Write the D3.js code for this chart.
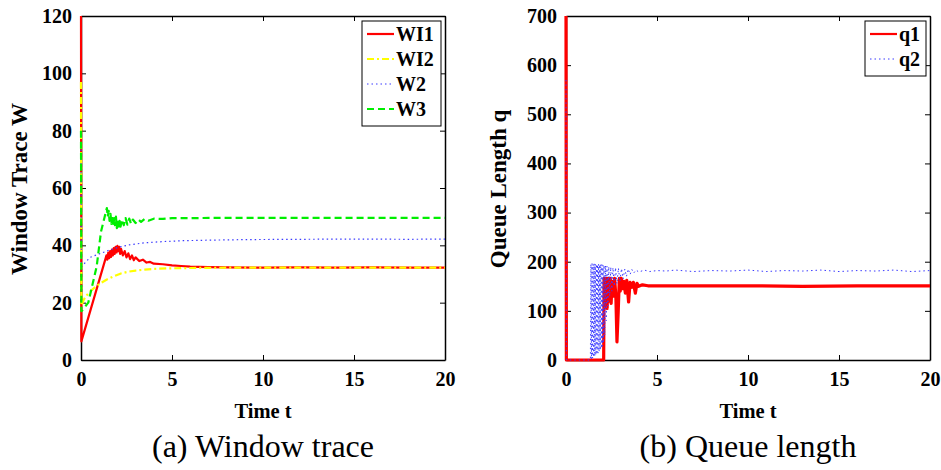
<!DOCTYPE html>
<html>
<head>
<meta charset="utf-8">
<script src="https://cdn.jsdelivr.net/npm/d3@7"></script>
<style>
  body { margin: 0; background: #fff; }
  text { font-family: "Liberation Serif", "Times New Roman", serif; }
</style>
</head>
<body>
<svg id="chart" width="941" height="470"></svg>
<script>
// values, [time, value]
var wi1 = [[0,120],[0.02,6.5],[1.40,36.5],[1.45,35],[1.5,37.5],[1.55,35.5],[1.6,38],[1.65,36],[1.7,38.5],
  [1.75,36.5],[1.8,39],[1.85,37],[1.9,39.5],[1.95,37.5],[2.0,39.8],[2.05,38],[2.1,39.5],[2.15,37],[2.2,38.8],
  [2.3,36.5],[2.4,38],[2.5,35.8],[2.6,37.2],[2.7,35.2],[2.8,36.5],[2.9,34.8],[3.0,35.8],[3.2,34.5],[3.4,35],
  [3.6,34],[3.8,34.2],[4.0,33.6],[4.5,33.4],[5.0,33.0],[5.5,32.8],[6.0,32.6],[7,32.4],[8,32.3],[10,32.2],
  [12,32.3],[14,32.2],[16,32.3],[18,32.2],[20,32.2]];
var wi2 = [[0,97],[0.02,19],[0.15,21],[0.3,22.5],[0.6,24.5],[1.0,26.5],[1.4,28],[1.8,29.2],[2.2,30.2],
  [2.6,30.8],[3.0,31.2],[3.5,31.5],[4.0,31.8],[5.0,32.0],[6.0,32.1],[8,32.2],[10,32.2],[14,32.2],[20,32.2]];
var w2 = [[0,75],[0.02,32.5],[0.5,35.8],[1.0,37],[1.5,38.2],[2.05,39.3],[2.6,40.1],[3.5,40.9],[4.5,41.3],
  [5.5,41.6],[7,41.8],[9,42.0],[12,42.1],[15,42.2],[18,42.1],[20,42.2]];
var w3 = [[0,80],[0.02,17],[0.4,20],[0.86,32.6],[1.1,44.8],[1.42,53],[1.47,50],[1.52,52],[1.57,48.5],
  [1.62,51],[1.67,47.5],[1.72,50.5],[1.77,46.5],[1.82,49.5],[1.87,47],[1.92,50],[1.97,46],[2.02,49],
  [2.07,45.5],[2.12,48.5],[2.17,46.5],[2.25,49],[2.35,47],[2.45,49.5],[2.55,47.2],[2.65,49.3],[2.75,47.5],
  [2.85,49],[3.0,47.8],[3.15,49],[3.3,48.2],[3.5,49.2],[3.7,48.6],[4.0,49.3],[4.5,49.2],[5,49.5],[6,49.5],
  [8,49.6],[10,49.6],[14,49.6],[20,49.6]];

var q1 = [[0,700],[0.02,0],[2.07,0],[2.09,166],[2.14,110],[2.2,166],[2.26,105],[2.31,166],[2.37,120],
  [2.43,166],[2.48,115],[2.53,160],[2.6,130],[2.67,166],[2.74,130],[2.8,37],[2.87,100],[2.93,166],
  [2.98,140],[3.04,166],[3.1,145],[3.18,160],[3.26,136],[3.34,162],[3.44,118],[3.52,158],[3.62,148],
  [3.7,158],[3.81,136],[3.9,156],[3.99,150],[4.2,153],[4.5,151],[5,151],[7,151],[10,151],[13,150],
  [16,151],[20,151]];
var q2 = [[0,570],[0.02,0],[1.34,0],[1.37,195],[1.40,2],[1.43,196],[1.46,4],[1.49,195],[1.52,6],
  [1.55,196],[1.58,8],[1.61,195],[1.64,10],[1.67,195],[1.70,12],[1.73,194],[1.76,14],[1.79,195],
  [1.82,17],[1.85,194],[1.88,20],[1.91,195],[1.94,24],[1.97,194],[2.00,28],[2.03,193],[2.06,35],
  [2.09,193],[2.13,50],[2.17,192],[2.21,80],[2.25,191],[2.30,110],[2.35,190],[2.40,130],[2.46,189],
  [2.52,140],[2.58,188],[2.65,150],[2.72,188],[2.80,155],[2.88,187],[2.96,160],[3.05,186],[3.14,165],
  [3.23,185],[3.32,170],[3.42,185],[3.52,174],[3.62,184],[3.72,177],[3.85,183],[4.0,179],[4.3,183],
  [4.6,180],[5,182],[5.5,181],[6,183],[7,180],[8,182],[9,181],[10,183],[11,180],[12,182],[13,181],
  [14,183],[15,180],[16,182],[17,181],[18,183],[19,180],[20,182]];

var xTicks = [0, 5, 10, 15, 20];
var wTicks = [0, 20, 40, 60, 80, 100, 120];
var qTicks = [0, 100, 200, 300, 400, 500, 600, 700];

var svg = d3.select("#chart");

function panel(opt) {
  var x = d3.scaleLinear().domain([0, 20]).range([opt.left, opt.right]);
  var y = d3.scaleLinear().domain(opt.yDomain).range([360, 16]);
  var g = svg.append("g");

  // ticks on all four sides, pointing in
  g.append("g").attr("transform", "translate(0,360)")
    .call(d3.axisBottom(x).tickValues(xTicks).tickSize(-5).tickSizeOuter(0).tickPadding(12));
  g.append("g").attr("transform", "translate(" + opt.left + ",0)")
    .call(d3.axisLeft(y).tickValues(opt.yTicks).tickSize(-5).tickSizeOuter(0).tickPadding(9));
  g.append("g").attr("transform", "translate(0,16)")
    .call(d3.axisTop(x).tickValues(xTicks).tickSize(-5).tickSizeOuter(0).tickFormat(""));
  g.append("g").attr("transform", "translate(" + opt.right + ",0)")
    .call(d3.axisRight(y).tickValues(opt.yTicks).tickSize(-5).tickSizeOuter(0).tickFormat(""));
  g.selectAll(".domain").attr("stroke", "#000").attr("stroke-width", 1.5);
  g.selectAll(".tick line").attr("stroke", "#000").attr("stroke-width", 1);
  g.selectAll(".tick text").style("font-size", "20px").style("font-weight", "bold").attr("fill", "#000");

  var line = d3.line().x(function(d){ return x(d[0]); }).y(function(d){ return y(d[1]); });
  opt.series.forEach(function(s){
    g.append("path").datum(s.data).attr("d", line)
      .attr("fill", "none").attr("stroke", s.color).attr("stroke-width", s.width)
      .attr("stroke-dasharray", s.dash).attr("stroke-linejoin", "round");
  });

  var cx = (opt.left + opt.right) / 2;
  g.append("text").text("Time t").attr("x", cx).attr("y", 418)
    .style("text-anchor", "middle").style("font-size", "20.5px").style("font-weight", "bold");
  g.append("text").text(opt.caption).attr("x", cx).attr("y", 457)
    .style("text-anchor", "middle").style("font-size", "32px");
  g.append("text").text(opt.yLabel)
    .attr("transform", "translate(" + opt.yLabelX + ",189) rotate(-90)")
    .style("text-anchor", "middle").style("font-size", "23px").style("font-weight", "bold");

  // legend
  var lg = g.append("g");
  lg.append("rect").attr("x", opt.legend.x).attr("y", 21).attr("width", opt.legend.w)
    .attr("height", opt.series.length * 25 + 5).attr("fill", "#fff").attr("stroke", "#000").attr("stroke-width", 1);
  opt.series.forEach(function(s, i){
    var ly = 34 + i * 25;
    lg.append("line").attr("x1", opt.legend.x + 5).attr("x2", opt.legend.x + 32)
      .attr("y1", ly).attr("y2", ly).attr("stroke", s.color).attr("stroke-width", s.legendWidth || s.width)
      .attr("stroke-dasharray", s.dash);
    lg.append("text").text(s.name).attr("x", opt.legend.x + 34).attr("y", ly + 7)
      .style("font-size", "20px").style("font-weight", "bold");
  });
}

panel({
  left: 81, right: 445, yDomain: [0, 120], yTicks: wTicks,
  caption: "(a) Window trace", yLabel: "Window Trace W", yLabelX: 27,
  legend: { x: 362, w: 79 },
  series: [
    { name: "WI1", data: wi1, color: "#ff0000", width: 2.2, dash: null },
    { name: "WI2", data: wi2, color: "#ffff00", width: 2.2, dash: "7,3,2,3" },
    { name: "W2", data: w2, color: "#3a3aff", width: 1.2, dash: "1.5,3" },
    { name: "W3", data: w3, color: "#00ee00", width: 2.2, dash: "7,4" }
  ]
});

panel({
  left: 566, right: 930, yDomain: [0, 700], yTicks: qTicks,
  caption: "(b) Queue length", yLabel: "Queue Length q", yLabelX: 506,
  legend: { x: 865, w: 61 },
  series: [
    { name: "q1", data: q1, color: "#ff0000", width: 3.2, legendWidth: 2.2, dash: null },
    { name: "q2", data: q2, color: "#3a3aff", width: 1, dash: "1.5,3" }
  ]
});
</script>
</body>
</html>
